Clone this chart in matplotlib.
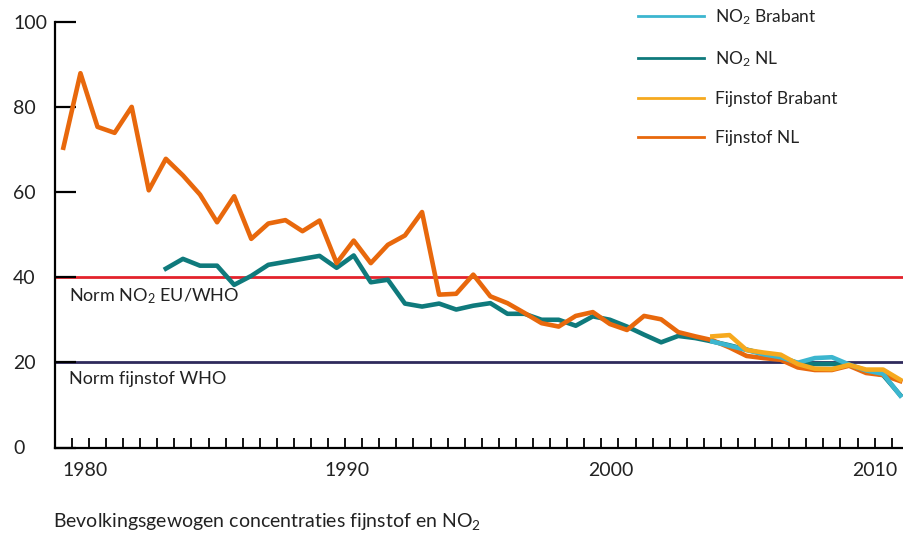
import matplotlib
matplotlib.use('Agg')
import matplotlib.pyplot as plt
from matplotlib.lines import Line2D
import numpy as np

plt.rcParams['font.family'] = ['Lato', 'DejaVu Sans']
plt.rcParams['mathtext.default'] = 'regular'

# measurements, one per step along the x axis
fijnstof_nl = [70.4, 87.9, 75.3, 73.9, 80.0, 60.4, 67.8, 63.9, 59.4, 52.9,
               59.0, 49.0, 52.6, 53.4, 50.8, 53.3, 43.3, 48.6, 43.3, 47.6,
               49.8, 55.3, 35.9, 36.1, 40.6, 35.5, 33.9, 31.6, 29.2, 28.4,
               30.9, 31.8, 29.0, 27.6, 30.9, 30.1, 27.1, 26.1, 25.2, 23.5,
               21.5, 21.0, 20.6, 18.8, 18.2, 18.2, 19.2, 17.5, 17.0, 15.6]
no2_nl = [42.0, 44.3, 42.7, 42.7, 38.2, 40.3, 42.9, 43.6, 44.3, 45.0,
          42.2, 45.1, 38.8, 39.4, 33.8, 33.1, 33.8, 32.4, 33.3, 33.9,
          31.4, 31.4, 30.0, 30.0, 28.6, 30.8, 30.0, 28.4, 26.5, 24.7,
          26.2, 25.7, 24.9, 24.0, 23.0, 22.0, 21.2, 19.8, 19.6, 19.6,
          19.4, 18.0, 17.0, 12.3]
no2_brabant = [24.9, 23.9, 22.9, 21.9, 21.2, 19.9, 21.0, 21.2, 19.5, 18.1, 17.3, 12.2]
fijnstof_brabant = [26.1, 26.4, 22.9, 22.3, 21.8, 19.6, 18.5, 18.4, 19.4, 18.3, 18.3, 15.9]

norm_no2 = 40
norm_fijnstof = 20

year_labels = ['1980', '1990', '2000', '2010']
year_pos = [1.27, 16.61, 32.07, 47.52]
y_ticks = [0, 20, 40, 60, 80, 100]

c_no2_brabant = '#3cb6cf'
c_no2_nl = '#0f7a7c'
c_fs_brabant = '#f6a91e'
c_fs_nl = '#e8680c'
c_text = '#222222'

n = len(fijnstof_nl)
x_fs_nl = np.arange(n)
x_no2_nl = np.arange(n - len(no2_nl), n)
x_brabant = np.arange(n - len(no2_brabant), n)

fig = plt.figure(figsize=(9.04, 5.39), dpi=100)
ax = fig.add_axes([55/904, 91.5/539, 849/904, 425.8/539])

ax.axhline(norm_no2, color='#e3222b', lw=2, zorder=1)
ax.axhline(norm_fijnstof, color='#2f2a5c', lw=2, zorder=1)

lw = 3.3
ax.plot(x_no2_nl, no2_nl, color=c_no2_nl, lw=lw, zorder=3, solid_joinstyle='round')
ax.plot(x_fs_nl, fijnstof_nl, color=c_fs_nl, lw=lw, zorder=4, solid_joinstyle='round')
ax.plot(x_brabant, no2_brabant, color=c_no2_brabant, lw=lw, zorder=5, solid_joinstyle='round')
ax.plot(x_brabant, fijnstof_brabant, color=c_fs_brabant, lw=lw, zorder=6, solid_joinstyle='round')

ax.set_xlim(-0.49, 49.22)
ax.set_ylim(0, 100)

for s in ['top', 'right']:
    ax.spines[s].set_visible(False)
for s in ['left', 'bottom']:
    ax.spines[s].set_linewidth(1.6)
    ax.spines[s].set_color('black')

ax.set_yticks(y_ticks)
ax.set_yticklabels([str(v) for v in y_ticks])
ax.tick_params(axis='y', direction='in', length=15, width=1.6, pad=0,
               labelsize=14, labelcolor=c_text)
for lab in ax.get_yticklabels():
    lab.set_horizontalalignment('left')
    lab.set_x(-42/849)

ax.set_xticks(np.arange(n - 1) + 0.5)
ax.set_xticklabels([])
ax.tick_params(axis='x', direction='in', length=7, width=1.3)
for pos, lab in zip(year_pos, year_labels):
    ax.text(pos, -5.4, lab, ha='center', va='center', fontsize=14, color=c_text,
            clip_on=False)

ax.text(0.35, 35.5, 'Norm NO$_2$ EU/WHO', fontsize=13, color=c_text, va='center', ha='left')
ax.text(0.35, 16.2, 'Norm fijnstof WHO', fontsize=13, color=c_text, va='center', ha='left')

fig.text(53/904, 1 - 522/539, 'Bevolkingsgewogen concentraties fijnstof en NO$_2$',
         fontsize=14, color=c_text, va='center', ha='left')

handles = [Line2D([], [], color=c_no2_brabant, lw=2),
           Line2D([], [], color=c_no2_nl, lw=2),
           Line2D([], [], color=c_fs_brabant, lw=2),
           Line2D([], [], color=c_fs_nl, lw=2)]
labels = ['NO$_2$ Brabant', 'NO$_2$ NL', 'Fijnstof Brabant', 'Fijnstof NL']
leg = fig.legend(handles, labels, loc='upper left', bbox_to_anchor=(638/904, 0.986),
                 frameon=False, fontsize=12.5, handlelength=3.8, handletextpad=0.65,
                 labelspacing=1.28, borderpad=0, borderaxespad=0)
for t in leg.get_texts():
    t.set_color(c_text)

fig.savefig('out.png', dpi=100)
